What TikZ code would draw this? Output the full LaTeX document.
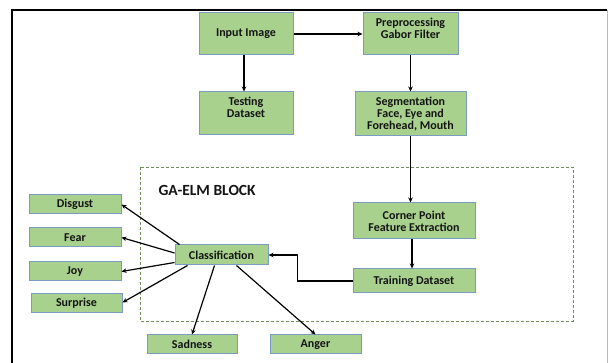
\documentclass[tikz,border=0pt]{standalone}
\usepackage{fontspec}
\setmainfont{Carlito}
\usetikzlibrary{arrows.meta,calc}
\definecolor{boxfill}{HTML}{A9D18E}
\definecolor{boxline}{HTML}{7A9CC0}
\definecolor{dashgreen}{HTML}{6F8F5A}
\definecolor{txt}{HTML}{141414}
\tikzset{
  box/.style={draw=boxline, fill=boxfill, line width=1pt, inner sep=0pt,
    font=\bfseries\fontsize{12}{12}\selectfont, text=txt, align=center},
  arr/.style={line width=1.2pt, -{Stealth[length=5pt,width=4.5pt]}},
}
\begin{document}
\begin{tikzpicture}[x=1pt,y=-1pt]
\useasboundingbox (0,0) rectangle (608,363);
% frame
\draw[line width=1.8pt] (11.8,363) -- (11.8,9.8) -- (607,9.8);
\draw[gray!55, line width=0.8pt] (607,9.8) -- (607,363);
% dashed block
\draw[dashgreen, line width=0.9pt, dash pattern=on 3pt off 2pt] (140,167) rectangle (573,321);
\node[anchor=west, font=\bfseries\fontsize{15.5}{16}\selectfont, text=txt] (blk) at (155,190) {GA-ELM BLOCK};
% nodes
\node[box, minimum width=94, minimum height=42] (inp) at (246,34) {Input Image};
\node[box, minimum width=95, minimum height=42] (pre) at (410.5,34) {Preprocessing\\Gabor Filter\\\mbox{}};
\node[box, minimum width=94, minimum height=43] (test) at (246,113.5) {Testing\\Dataset\\\mbox{}};
\node[box, minimum width=111, minimum height=44] (seg) at (410.5,114) {Segmentation\\Face, Eye and\\Forehead, Mouth};
\node[box, minimum width=122, minimum height=36] (corner) at (414,221) {Corner Point\\Feature Extraction};
\node[box, minimum width=122, minimum height=24] (train) at (414,281) {Training Dataset};
\node[box, minimum width=93, minimum height=20] (cls) at (221.5,255) {Classification};
\node[box, minimum width=92, minimum height=19] (disgust) at (75,204.5) {Disgust};
\node[box, minimum width=92, minimum height=19] (fear) at (75,237.5) {Fear};
\node[box, minimum width=92, minimum height=19] (joy) at (75,271.5) {Joy};
\node[box, minimum width=91, minimum height=19] (surprise) at (76.5,303.5) {Surprise};
\node[box, minimum width=90, minimum height=19] (sadness) at (192,344.5) {Sadness};
\node[box, minimum width=91, minimum height=19] (anger) at (315.5,344.5) {Anger};
% connectors
\draw[arr] (inp.east) -- (pre.west);
\draw[arr] ($(inp.south)+(-2,0)$) -- ($(test.north)+(-2,0)$);
\draw[arr] (pre.south) -- (pre.south |- seg.north);
\draw[arr] (seg.south) -- (seg.south |- corner.north);
\draw[arr] ($(corner.south)+(-2,0)$) -- ($(train.north)+(-2,0)$);
\draw[arr] (train.west) -- ++(-55,0) |- (cls.east);
\draw[arr] ($(cls.north west)+(5,0)$) -- (disgust.east);
\draw[arr] ($(cls.west)+(0,-2)$) -- (fear.east);
\draw[arr] ($(cls.south west)+(0,-3)$) -- (joy.east);
\draw[arr] ($(cls.south west)+(13,0)$) -- ($(surprise.east)+(0,-1)$);
\draw[arr] ($(cls.south west)+(40,0)$) -- (sadness.north);
\draw[arr] ($(cls.south west)+(62,0)$) -- (anger.north);
\end{tikzpicture}
\end{document}
